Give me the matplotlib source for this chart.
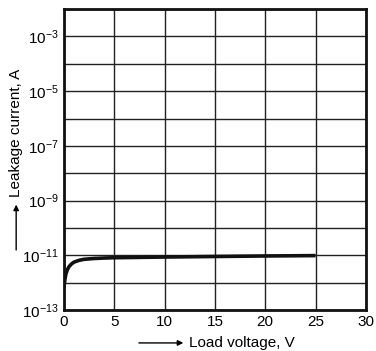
import matplotlib
matplotlib.use('Agg')
import matplotlib.pyplot as plt
import numpy as np

plt.rcParams['font.family'] = ['Liberation Sans', 'DejaVu Sans']
plt.rcParams['mathtext.fontset'] = 'custom'
plt.rcParams['mathtext.rm'] = 'Liberation Sans'
plt.rcParams['mathtext.it'] = 'Liberation Sans'

# leakage current vs load voltage
voltage = [0.0, 0.1, 0.2, 0.35, 0.5, 0.75, 1.0, 1.5, 2.0, 3.0, 4.0, 5.0, 10.0, 15.0, 20.0, 25.0]
current = [6.5e-13, 1.3e-12, 2.1e-12, 3.0e-12, 3.8e-12, 4.8e-12, 5.6e-12, 6.5e-12,
           7.1e-12, 7.6e-12, 7.9e-12, 8.1e-12, 8.6e-12, 9.0e-12, 9.4e-12, 9.7e-12]

x_ticks = [0, 5, 10, 15, 20, 25, 30]
y_label_exp = [-3, -5, -7, -9, -11, -13]

fig = plt.figure(figsize=(3.76, 3.51), dpi=100)
ax = fig.add_axes([0.170, 0.117, 0.803, 0.857])

ax.plot(voltage, current, color='#111111', lw=2.6, solid_capstyle='butt', zorder=3)

ax.set_yscale('log')
ax.set_xlim(0, 30)
ax.set_ylim(1e-13, 1e-2)

ax.set_xticks(x_ticks)
ax.set_xticklabels([str(v) for v in x_ticks], fontsize=11)
ax.set_yticks([10.0 ** e for e in range(-13, -1)])
ax.set_yticklabels([r'$\mathregular{10^{-%d}}$' % -e if e in y_label_exp else ''
                    for e in range(-13, -1)], fontsize=11)
ax.minorticks_off()
ax.tick_params(length=0, pad=4)

ax.grid(True, which='major', color='#222222', lw=1.0)
for s in ax.spines.values():
    s.set_linewidth(2.0)
    s.set_color('#111111')

# axis titles with arrows
fig.text(0.043, 0.44, 'Leakage current, A', rotation=90, ha='center', va='bottom',
         fontsize=11)
ax.annotate('', xy=(0.043, 0.425), xytext=(0.043, 0.28), xycoords='figure fraction',
            arrowprops=dict(arrowstyle='-|>', color='black', lw=1.0, mutation_scale=8))
fig.text(0.502, 0.023, 'Load voltage, V', ha='left', va='center', fontsize=11)
ax.annotate('', xy=(0.495, 0.023), xytext=(0.362, 0.023), xycoords='figure fraction',
            arrowprops=dict(arrowstyle='-|>', color='black', lw=1.0, mutation_scale=8))

plt.savefig('out.png', dpi=100)
